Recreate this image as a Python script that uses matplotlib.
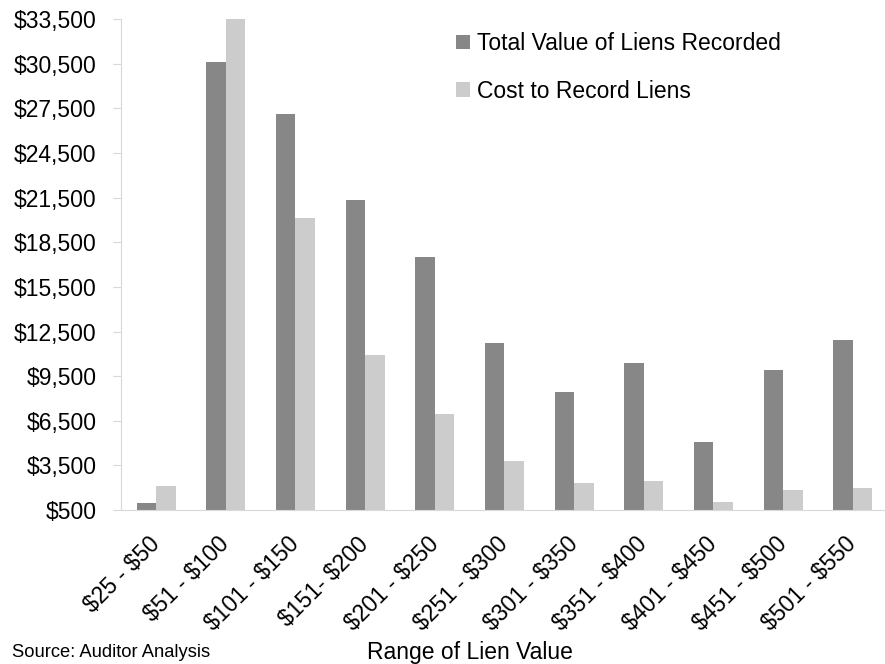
import matplotlib
matplotlib.use("Agg")
import matplotlib.pyplot as plt
from matplotlib.transforms import ScaledTranslation
import numpy as np

plt.rcParams['font.family'] = ['Liberation Sans', 'DejaVu Sans']
plt.rcParams['text.parse_math'] = False

categories = ["$25 - $50", "$51 - $100", "$101 - $150", "$151- $200", "$201 - $250",
              "$251 - $300", "$301 - $350", "$351 - $400", "$401 - $450", "$451 - $500",
              "$501 - $550"]
total_value = [950, 30650, 27110, 21330, 17480, 11700, 8450, 10360, 5050, 9890, 11920]
cost_to_record = [2130, 33500, 20140, 10920, 6950, 3790, 2290, 2450, 1040, 1820, 1980]
y_ticks = list(range(500, 33501, 3000))

dark = "#878787"
light = "#cccccc"

fig = plt.figure(figsize=(8.85, 6.64), dpi=100)
ax = fig.add_axes([0.137, 0.232, 0.866, 0.739])

x = np.arange(len(categories))
w = 0.28
ax.bar(x - w/2, np.array(total_value) - 500, w, bottom=500, color=dark,
       label="Total Value of Liens Recorded")
ax.bar(x + w/2, np.array(cost_to_record) - 500, w, bottom=500, color=light,
       label="Cost to Record Liens")

ax.set_ylim(500, 33500)
ax.set_xlim(-0.5, len(categories) - 0.5)
ax.set_yticks(y_ticks)
ax.set_yticklabels([f"${v:,}" for v in y_ticks], fontsize=16.5)
ax.set_xticks(x)
ax.set_xticklabels(categories, fontsize=16.5, rotation=45, ha='right', va='top',
                   rotation_mode='anchor')
ax.tick_params(axis='x', length=0, pad=12)
ax.tick_params(axis='y', length=6, color='#d9d9d9', pad=12)
offset = ScaledTranslation(-0.08, -0.06, fig.dpi_scale_trans)
for lab in ax.get_xticklabels():
    lab.set_transform(lab.get_transform() + offset)

for s in ['top', 'right']:
    ax.spines[s].set_visible(False)
ax.spines['left'].set_color('#d9d9d9')
ax.spines['bottom'].set_color('#d9d9d9')

leg = ax.legend(loc='upper left', bbox_to_anchor=(0.41, 1.016), frameon=False,
                fontsize=16.5, handlelength=0.6, handleheight=0.6, handletextpad=0.3,
                labelspacing=1.08)

fig.text(0.531, 0.008, "Range of Lien Value", fontsize=16.5, ha='center', va='baseline')
fig.text(0.013, 0.0105, "Source: Auditor Analysis", fontsize=13.2, ha='left', va='baseline')

fig.savefig("out.png", dpi=100)
